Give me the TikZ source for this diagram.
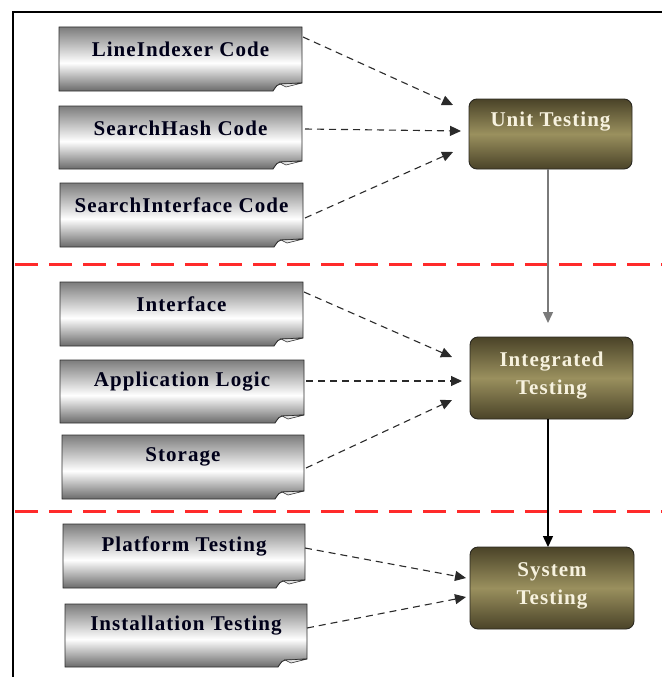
\documentclass[tikz,border=0pt]{standalone}
\usepackage{fontspec}
\setmainfont{Liberation Serif}
\usetikzlibrary{arrows.meta,calc}

\definecolor{docedge}{HTML}{2E2E2E}
\definecolor{docdark}{HTML}{7C7C7C}
\definecolor{docbottom}{HTML}{6A6A6A}
\definecolor{docfold}{HTML}{E4E4E4}
\definecolor{olivedark}{HTML}{4A4328}
\definecolor{olivelight}{HTML}{9A905E}
\definecolor{oliveedge}{HTML}{2A2820}
\definecolor{stagetext}{HTML}{F7F2DF}
\definecolor{linkgrey}{HTML}{2A2A2A}
\definecolor{flowgrey}{HTML}{7A7A7A}
\definecolor{bandred}{HTML}{FF2A2A}

% page-like fill: grey at the top, white a little below the middle, grey at the bottom
\pgfdeclareverticalshading{docshade}{100bp}{%
  color(0bp)=(docbottom); color(25bp)=(docbottom);
  color(47bp)=(white); color(75bp)=(docdark); color(100bp)=(docdark)}

\tikzset{
  docnode/.style={rectangle, inner sep=0pt, outer sep=0pt},
  doclabel/.style={inner sep=0pt, font=\fontsize{21}{24}\selectfont\bfseries\addfontfeature{LetterSpace=5}, text=black!90!blue},
  stagebox/.style={rectangle, rounded corners=8pt, draw=oliveedge, line width=0.9pt,
    top color=olivedark, bottom color=olivedark, middle color=olivelight,
    inner sep=0pt, outer sep=0pt},
  stagelabel/.style={inner sep=0pt, align=center, text=stagetext,
    font=\fontsize{21}{28}\selectfont\bfseries\addfontfeature{LetterSpace=5}},
  feed/.style={draw=linkgrey, line width=1.1pt, dash pattern=on 7pt off 5pt,
    -{Triangle[length=11pt,width=10pt]}},
  flow/.style={line width=1.4pt, -{Triangle[length=11pt,width=10pt]}},
  band/.style={draw=bandred, line width=3pt, dash pattern=on 23pt off 11pt}
}

% \DocBox{name}{x1}{y1}{x2}{y2}{text}: sheet with a curled lower right corner
\newcommand\DocBox[6]{%
  \shadedraw[shading=docshade, draw=docedge, line width=0.9pt]
    (#2,#3) -- (#4,#3) -- (#4,#5-8) -- (#4-22,#5-7)
    .. controls (#4-25,#5-6) .. (#4-29,#5) -- (#2,#5) -- cycle;
  \filldraw[fill=docfold, draw=docedge, line width=0.6pt]
    (#4,#5-8) -- (#4-22,#5-7) -- (#4-16,#5-4) -- cycle;
  \node[docnode, minimum width=#4-#2, minimum height=#5-#3] (#1) at ({(#2+#4)/2},{(#3+#5)/2}) {};
  \node[doclabel] (#1-t) at ({(#2+#4)/2},#3+22) {#6};
}

\begin{document}
\begin{tikzpicture}[x=1pt,y=-1pt]
\useasboundingbox (0,0) rectangle (662,677);

% frame
\draw[line width=2.5pt] (13,677) -- (13,12) -- (662,12);

% section separators
\draw[band] (15,264) -- (662,264);
\draw[band] (15,511) -- (662,511);

% sources
\DocBox{li}{59}{27}{302}{91}{LineIndexer Code}
\DocBox{sh}{59}{106}{302}{169}{SearchHash Code}
\DocBox{si}{60}{183}{303}{247}{SearchInterface Code}
\DocBox{if}{60}{282}{303}{346}{Interface}
\DocBox{al}{60}{360}{304}{423}{Application Logic}
\DocBox{st}{62}{435}{304}{499}{Storage}
\DocBox{pt}{63}{524}{305}{588}{Platform Testing}
\DocBox{it}{65}{604}{307}{667}{Installation Testing}

% testing stages
\node[stagebox, minimum width=163, minimum height=70] (ut) at (550.5,134) {};
\node[stagelabel] (ut-t) at (550.5,122) {Unit Testing};
\node[stagebox, minimum width=163, minimum height=82] (ig) at (551.5,378) {};
\node[stagelabel] (ig-t) at (551.5,376) {Integrated\\Testing};
\node[stagebox, minimum width=164, minimum height=82] (sy) at (552,588) {};
\node[stagelabel] (sy-t) at (552,586) {System\\Testing};

% inputs into each stage
\draw[feed] ($(li.north east)+(1,10)$) -- ($(ut.north west)+(-16,6)$);
\draw[feed] ($(sh.north east)+(3,23)$) -- ($(ut.north west)+(-8,32)$);
\draw[feed] ($(si.north east)+(2,35)$) -- ($(ut.north west)+(-16,53)$);

\draw[feed] ($(if.north east)+(1,10)$) -- ($(ig.north west)+(-18,20)$);
\draw[feed] ($(al.north east)+(2,21)$) -- ($(ig.north west)+(-8,44)$);
\draw[feed] ($(st.north east)+(2,33)$) -- ($(ig.north west)+(-18,63)$);

\draw[feed] ($(pt.north east)+(0,24)$) -- ($(sy.north west)+(-4,31)$);
\draw[feed] ($(it.north east)+(0,24)$) -- ($(sy.north west)+(-4,50)$);

% stage to stage
\draw[flow, draw=flowgrey, shorten >=14pt] (548,169) coordinate (ut-out) -- (ut-out |- ig.north);
\draw[flow, draw=black] (548,419) coordinate (ig-out) -- (ig-out |- sy.north);
\end{tikzpicture}
\end{document}
